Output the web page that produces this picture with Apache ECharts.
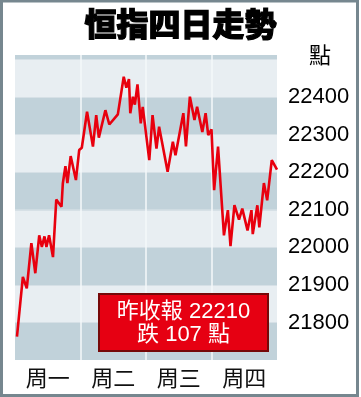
<!DOCTYPE html>
<html>
<head>
<meta charset="utf-8">
<script src="https://cdn.jsdelivr.net/npm/echarts@6/dist/echarts.min.js"></script>
<style>
html,body{margin:0;padding:0;background:#fff;}
#chart{width:361px;height:397px;}
</style>
</head>
<body>
<div id="chart"></div>
<script>
// ---- data ----
const dayLabels = ['周一', '周二', '周三', '周四'];
const yTickLabels = ['21800', '21900', '22000', '22100', '22200', '22300', '22400'];
// time position in trading days (0 = start of 周一, 4 = end of 周四)
const times = [0.03, 0.12, 0.18, 0.25, 0.31, 0.37, 0.41, 0.45, 0.48, 0.52, 0.58, 0.63, 0.71, 0.73, 0.77, 0.80, 0.85, 0.93, 0.98,
  1.02, 1.10, 1.19, 1.24, 1.28, 1.38, 1.44, 1.57, 1.66, 1.70, 1.74, 1.76, 1.80, 1.83, 1.87, 1.92, 1.95,
  2.05, 2.10, 2.16, 2.20, 2.33, 2.41, 2.45, 2.57, 2.61, 2.67, 2.74, 2.78, 2.86, 2.91, 2.95,
  3.00, 3.04, 3.10, 3.19, 3.25, 3.29, 3.35, 3.42, 3.47, 3.55, 3.61, 3.63, 3.70, 3.73, 3.80, 3.85, 3.92, 4.00];
const hsiValues = [21762, 21921, 21891, 22011, 21931, 22032, 22001, 22029, 22001, 22032, 21974, 22127, 22108, 22170, 22216, 22171, 22243, 22179, 22259,
  22265, 22361, 22268, 22352, 22292, 22365, 22327, 22354, 22454, 22425, 22448, 22357, 22401, 22380, 22434, 22330, 22374,
  22232, 22352, 22263, 22321, 22201, 22281, 22245, 22357, 22269, 22401, 22339, 22374, 22307, 22357, 22299,
  22314, 22152, 22268, 22032, 22099, 22003, 22112, 22074, 22103, 22045, 22099, 22035, 22112, 22053, 22171, 22125, 22232, 22207];
const lastClose = '22210';
const change = '107';

const lineData = times.map((t, i) => [t, hsiValues[i]]);

const chart = echarts.init(document.getElementById('chart'), null, {renderer: 'canvas'});
const numFont = '"Liberation Sans", Arial, "Noto Sans CJK TC", sans-serif';
const cjkFont = '"Noto Sans CJK TC", "Noto Sans CJK SC", sans-serif';

chart.setOption({
  animation: false,
  backgroundColor: '#ffffff',
  title: {
    text: '恒指四日走勢',
    left: 'center',
    top: 3,
    textStyle: {fontSize: 32, fontWeight: 900, color: '#000', fontFamily: cjkFont, textBorderColor: '#000', textBorderWidth: 1.2}
  },
  grid: {left: 15, right: 84, top: 55, bottom: 37, containLabel: false},
  xAxis: [
    {
      type: 'category',
      data: dayLabels,
      boundaryGap: true,
      position: 'bottom',
      axisLine: {show: false},
      axisTick: {show: false},
      splitLine: {show: false},
      axisLabel: {margin: 7, fontSize: 22, color: '#111', fontFamily: cjkFont}
    },
    {
      type: 'value',
      min: 0,
      max: 4,
      interval: 1,
      position: 'top',
      axisLine: {show: false},
      axisTick: {show: false},
      axisLabel: {show: false},
      splitLine: {show: true, showMinLine: false, showMaxLine: false, lineStyle: {color: '#f5f8fa', width: 1.5}}
    }
  ],
  yAxis: {
    type: 'value',
    position: 'right',
    min: 21700,
    max: 22512,
    interval: 100,
    axisLine: {show: false},
    axisTick: {show: false},
    axisLabel: {
      margin: 11,
      fontSize: 22,
      color: '#000',
      fontFamily: numFont,
      formatter: v => yTickLabels.includes(String(v)) ? String(v) : ''
    },
    splitLine: {show: true, showMinLine: false, showMaxLine: false, lineStyle: {color: '#d6e0e6', width: 1}},
    splitArea: {show: true, areaStyle: {color: ['#c1d2da', '#e8eef2']}}
  },
  series: [{
    type: 'line',
    xAxisIndex: 1,
    data: lineData,
    showSymbol: false,
    symbol: 'none',
    lineStyle: {color: '#e8000e', width: 2.6},
    z: 3
  }],
  graphic: [
    {
      type: 'text',
      x: 320,
      y: 55,
      z: 10,
      style: {text: '點', fontSize: 22, fontFamily: cjkFont, fill: '#000', align: 'center', verticalAlign: 'middle'}
    },
    {
      type: 'rect',
      z: 10,
      shape: {x: 99, y: 294, width: 169, height: 57},
      style: {fill: '#e60012', stroke: '#760808', lineWidth: 2}
    },
    {
      type: 'text',
      z: 11,
      x: 183.5,
      y: 323,
      style: {
        text: '昨收報 ' + lastClose + '\n跌 ' + change + ' 點',
        fill: '#ffffff',
        fontFamily: numFont,
        fontSize: 22,
        lineHeight: 23,
        align: 'center',
        verticalAlign: 'middle'
      }
    },
    {
      type: 'rect',
      z: 20,
      shape: {x: 1.5, y: 1, width: 356, height: 394.5},
      style: {fill: 'none', stroke: '#76878f', lineWidth: 3}
    }
  ]
});
</script>
</body>
</html>
